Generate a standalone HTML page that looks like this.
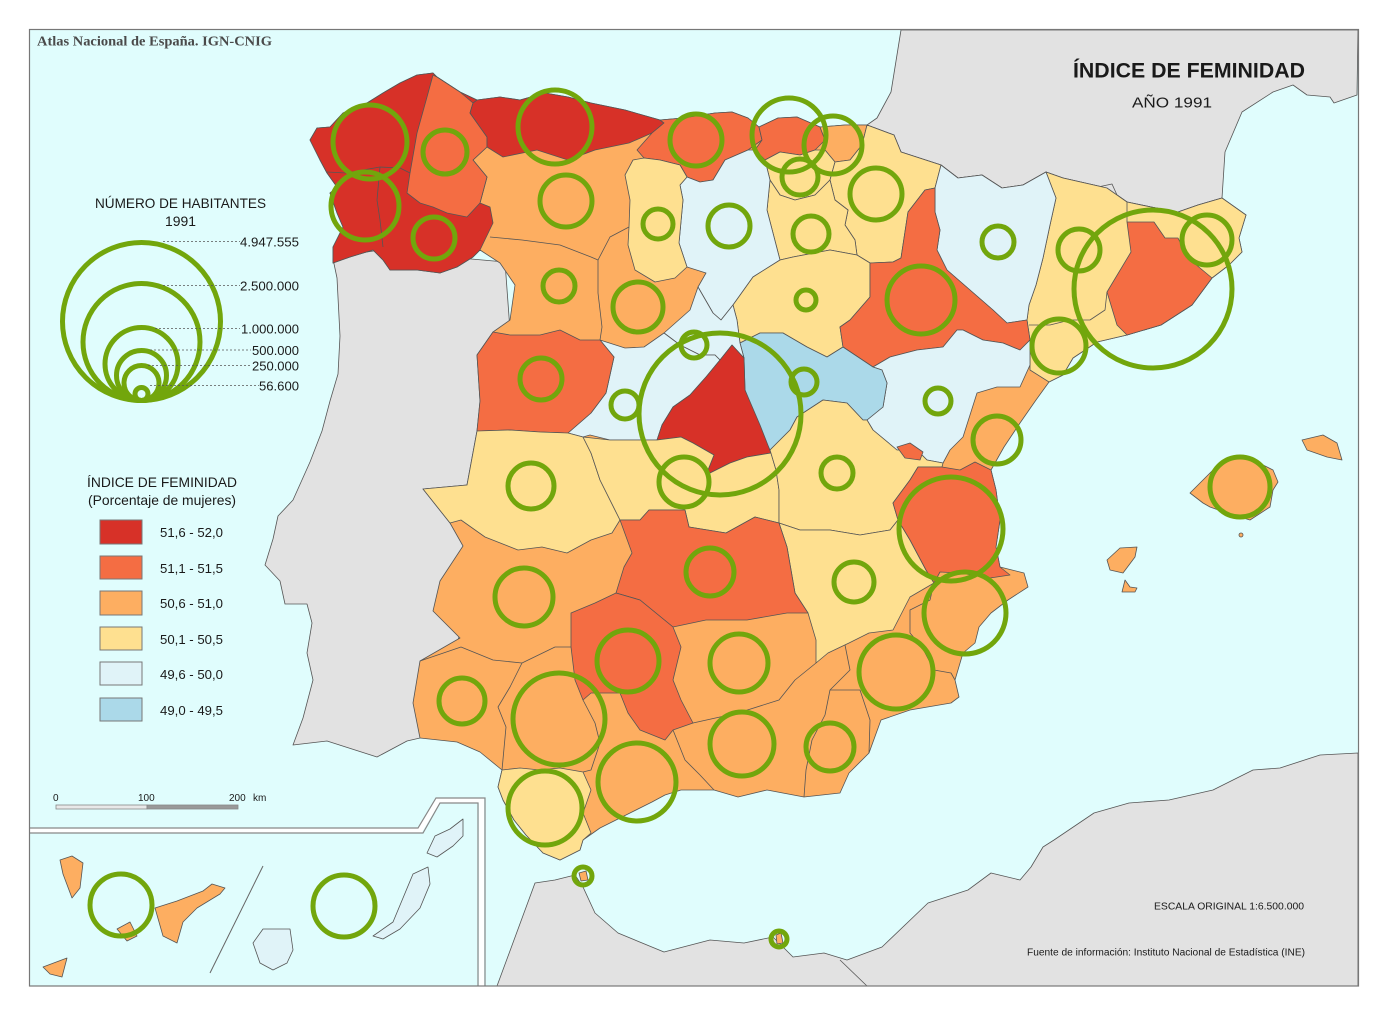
<!DOCTYPE html>
<html><head><meta charset="utf-8"><style>
html,body{margin:0;padding:0;background:#fff;}
svg{display:block;}
text{font-family:"Liberation Sans",sans-serif;fill:#1a1a1a;}
</style></head><body>
<svg width="1388" height="1016" viewBox="0 0 1388 1016" xmlns="http://www.w3.org/2000/svg">
<rect width="1388" height="1016" fill="#fff"/>
<rect x="30" y="30" width="1328" height="956" fill="#e0fdfd"/>

<g stroke="#555" stroke-width="0.8" stroke-linejoin="round">
<!-- France -->
<polygon fill="#e2e2e2" points="901,30 891,92 877,118 867,125 894,135 901,152 941,165 958,178 982,175 1002,188 1023,185 1046,172 1063,178 1107,188 1127,202 1151,207 1178,212 1198,205 1222,198 1225,152 1242,112 1273,92 1293,85 1307,95 1330,97 1334,103 1357,95 1358,30"/>
<!-- Portugal -->
<polygon fill="#e2e2e2" points="333,259 337,278 340,336 338,374 330,401 322,431 310,462 293,500 278,516 273,539 265,565 280,581 285,604 307,604 312,623 307,653 313,680 303,718 293,745 327,741 377,757 407,741 420,738 440,700 470,600 490,450 510,330 505,262 460,258 380,250 334,257"/>
<!-- Africa -->
<polygon fill="#e2e2e2" points="497,986 514,940 535,883 555,880 575,875 583,887 595,913 618,933 664,952 710,940 744,943 773,937 793,957 824,953 847,960 882,947 928,903 968,890 991,873 1020,880 1031,867 1043,847 1054,840 1094,813 1129,803 1169,800 1213,790 1253,770 1280,768 1320,755 1358,753 1358,986"/>
<polyline fill="none" points="840,960 867,986"/>

<!-- Spain base -->
<polygon fill="#fdae61" points="310,140 317,128 330,127 343,113 367,103 383,93 400,83 417,75 433,73 437,77 460,92 477,100 500,97 520,100 545,93 568,97 591,103 625,110 660,120 683,118 715,113 732,112 748,118 759,127 778,118 797,117 820,127 845,125 867,125 894,135 901,152 941,165 958,178 982,175 1002,188 1023,185 1046,172 1063,178 1107,188 1127,202 1151,207 1178,212 1198,205 1222,198 1246,215 1239,238 1242,252 1229,265 1212,278 1192,305 1161,325 1127,335 1097,342 1073,358 1063,375 1049,382 1036,400 1020,423 1004,447 991,470 996,490 1000,520 996,547 1000,567 1024,573 1028,587 1008,600 991,613 979,627 975,643 963,653 955,680 959,697 951,703 910,710 881,720 869,753 849,773 840,793 804,797 767,790 738,797 714,790 681,790 665,795 652,802 630,813 600,828 583,840 580,850 560,860 543,853 526,835 514,820 503,800 498,787 502,770 480,752 457,742 420,738 413,703 420,661 460,638 433,611 440,581 463,546 450,523 423,489 467,485 477,431 480,401 477,355 493,332 510,320 515,285 500,263 480,250 473,257 457,267 440,273 417,270 390,270 383,260 373,250 350,257 333,263 333,247 343,227 337,213 330,193 337,187 327,173 320,160"/>
<polygon fill="#e2e2e2" points="1098,187 1112,184 1117,195 1103,198"/>

<!-- Galicia -->
<polygon fill="#d73128" points="310,140 317,128 330,127 343,113 367,103 383,93 400,83 417,75 433,73 437,77 460,92 477,100 470,113 487,137 487,147 473,160 487,177 480,203 490,207 493,223 480,250 473,257 457,267 440,273 417,270 390,270 383,260 373,250 350,257 333,263 333,247 343,227 337,213 330,193 337,187 327,173 320,160"/>
<polygon fill="#f46d43" points="433,75 437,77 460,92 473,103 470,113 487,137 487,147 473,160 487,177 480,203 467,217 447,213 433,207 420,203 407,193 410,173 417,133 427,97"/>
<polygon fill="#d73128" points="473,103 477,100 500,97 520,100 545,93 568,97 591,103 625,110 660,120 664,123 652,133 629,143 595,150 568,160 537,150 503,157 487,147 487,137 470,113"/>
<polygon fill="#f46d43" points="660,120 683,118 715,113 732,112 748,118 759,127 762,140 748,150 725,160 713,180 700,182 687,177 680,165 660,160 644,158 637,150 652,133 664,123"/>
<polygon fill="#f46d43" points="759,127 778,118 797,117 820,127 825,140 815,150 800,155 780,152 765,160 755,150 762,140"/>
<polygon fill="#fdae61" points="820,127 845,125 867,125 862,145 850,160 835,162 825,150 825,140"/>
<polygon fill="#fee090" points="765,160 780,152 800,155 815,150 825,150 835,162 830,180 815,195 795,200 780,195 770,180"/>
<polygon fill="#fee090" points="867,125 894,135 901,152 941,165 935,188 925,190 908,212 901,258 893,262 870,263 857,255 855,240 845,225 848,210 835,200 830,180 835,162 850,160 862,145"/>
<polygon fill="#fee090" points="770,180 780,195 795,200 815,195 830,180 835,200 848,210 845,225 855,240 857,255 830,250 793,257 780,260 767,210"/>
<polygon fill="#e0f3f8" points="687,177 700,182 713,180 725,160 748,150 755,150 765,160 770,180 767,210 780,260 753,277 733,305 721,320 713,313 698,287 706,273 687,267 679,243 683,200 680,185"/>
<polygon fill="#fee090" points="644,158 660,160 680,165 687,177 680,185 683,200 679,243 687,267 675,278 655,282 635,270 628,245 629,227 630,200 625,175 633,160"/>
<polygon fill="#fee090" points="780,260 793,257 830,250 857,255 870,263 870,297 850,320 840,327 843,347 827,357 807,347 783,333 760,333 740,343 737,320 733,305 753,277"/>
<polygon fill="#fee090" points="1046,172 1063,178 1107,188 1127,202 1151,207 1178,212 1198,205 1222,198 1246,215 1239,238 1242,252 1229,265 1212,278 1192,305 1161,325 1127,335 1097,342 1073,358 1063,375 1049,382 1030,370 1030,340 1027,320 1029,305 1036,285 1043,258 1050,225 1056,198"/>
<polygon fill="#e0f3f8" points="941,165 958,178 982,175 1002,188 1023,185 1046,172 1056,198 1050,225 1043,258 1036,285 1029,305 1027,320 1007,323 993,310 970,290 947,270 937,250 940,230 935,212 935,188"/>
<polygon fill="#f46d43" points="925,190 935,188 935,212 940,230 937,250 947,270 970,290 993,310 1007,323 1027,320 1030,340 1020,350 1003,343 983,340 963,330 957,330 943,347 917,350 890,357 873,367 843,347 840,327 850,320 870,297 870,263 893,262 901,258 908,212"/>
<polygon fill="#f46d43" points="1127,222 1154,222 1165,238 1178,238 1188,258 1212,278 1192,305 1161,325 1127,335 1117,325 1107,292 1131,252"/>
<polygon fill="#e0f3f8" points="873,367 890,357 917,350 943,347 957,330 963,330 983,340 1003,343 1020,350 1030,340 1030,365 1020,387 997,387 977,393 963,437 950,450 943,463 927,460 917,450 897,450 873,430 867,420 883,407 887,383 882,370"/>
<polygon fill="#abd9e9" points="744,358 740,343 760,333 783,333 807,347 827,357 843,347 873,367 882,370 887,383 883,407 867,420 863,420 847,403 823,400 797,417 790,430 770,450 763,437 745,390"/>
<polygon fill="#e0f3f8" points="698,287 713,313 721,320 733,305 737,320 740,343 744,358 732,345 720,360 715,355 700,355 680,345 664,333 690,310"/>
<polygon fill="#e0f3f8" points="600,340 625,348 644,347 664,333 680,345 700,355 715,355 720,360 706,377 690,395 673,407 662,425 657,440 630,440 610,440 590,435 583,437 568,433 591,413 606,393 614,357"/>
<polygon fill="#f46d43" points="493,332 510,335 540,335 560,330 580,340 600,340 614,357 606,393 591,413 568,433 540,432 510,430 477,431 480,401 477,355"/>
<polygon fill="#d73128" points="732,345 744,358 745,390 760,425 771,453 747,457 730,463 706,475 714,455 693,443 681,437 657,440 662,425 673,407 690,395 706,377 720,360"/>
<polygon fill="#fee090" points="477,431 510,430 540,432 568,433 583,437 591,453 600,480 620,520 612,533 591,540 567,553 542,547 518,550 485,537 461,520 450,523 423,489 467,485"/>
<polygon fill="#fee090" points="583,437 610,440 630,440 657,440 681,437 693,443 714,455 706,475 730,463 747,457 771,453 776,470 779,490 779,523 755,517 726,533 689,527 685,510 649,510 640,520 620,520 600,480 591,453"/>
<polygon fill="#fee090" points="770,450 790,430 797,417 823,400 847,403 863,420 867,420 873,430 897,450 917,450 927,460 943,463 942,467 918,467 910,480 893,503 898,520 890,530 860,535 830,530 800,530 779,523 779,490 776,470"/>
<polygon fill="#fee090" points="779,523 800,530 830,530 860,535 890,530 898,520 910,540 926,570 934,583 910,597 893,630 869,633 849,643 828,653 816,663 816,640 808,613 795,593 787,547"/>
<polygon fill="#f46d43" points="918,467 942,467 960,470 975,462 991,470 996,490 1000,520 996,547 1000,567 1010,575 990,578 960,573 940,572 934,583 926,570 910,540 898,520 893,503 910,480"/>
<polygon fill="#f46d43" points="897,447 910,443 923,452 920,460 905,458"/>
<polygon fill="#f46d43" points="620,520 640,520 649,510 685,510 689,527 726,533 755,517 779,523 787,547 795,593 808,613 787,613 747,620 706,620 673,627 640,600 616,593 624,567 632,553"/>
<polygon fill="#f46d43" points="571,613 595,603 616,593 640,600 673,627 681,647 673,680 681,700 693,723 673,730 665,740 640,730 628,713 620,693 591,693 583,700 575,680 571,647"/>
<polygon fill="#fee090" points="502,770 520,768 540,770 560,768 583,772 591,790 583,813 591,833 583,840 580,850 560,860 543,853 526,835 514,820 503,800 498,787"/>

<g fill="none">
<polyline points="490,237 522,240 560,245 591,257 598,260"/>
<polyline points="598,260 610,237 629,227"/>
<polyline points="598,260 598,293 602,327 600,340"/>
<polyline points="420,661 461,647 493,660 522,663 555,647 571,647"/>
<polyline points="522,663 510,687 498,707 506,727 502,770"/>
<polyline points="583,700 595,723 600,743 591,770 583,772"/>
<polyline points="673,730 685,760 700,775 714,790"/>
<polyline points="693,723 738,713 779,700 795,680 816,663"/>
<polyline points="845,645 850,670 830,690 825,715 812,740 806,770 804,797"/>
<polyline points="830,690 860,690 870,720 869,753"/>
<polyline points="934,583 930,600 910,610 910,633 922,647 934,670 951,673 955,680"/>
<polyline points="327,172 346,173 380,167 400,168 410,173"/>
<polyline points="380,167 377,200 380,220 383,247"/>
<polyline points="1127,202 1127,222"/>
<polyline points="1029,325 1050,325 1070,320 1090,320 1105,310 1107,292"/>
</g>

<!-- Balearics -->
<polygon fill="#fdae61" points="1190,493 1200,483 1213,470 1227,460 1247,457 1273,470 1278,482 1273,490 1270,507 1250,520 1240,517 1227,513 1210,507 1203,503"/>
<polygon fill="#fdae61" points="1302,440 1323,435 1337,443 1342,460 1327,457 1307,450"/>
<polygon fill="#fdae61" points="1107,560 1120,548 1137,547 1135,557 1123,573 1110,570"/>
<polygon fill="#fdae61" points="1122,592 1125,580 1130,587 1137,588 1135,592"/>
<circle cx="1241" cy="535" r="2" fill="#fdae61"/>
<!-- Ceuta / Melilla -->
<polygon fill="#fdae61" points="579,873 586,871 588,880 581,881"/>
<polygon fill="#fdae61" points="776,935 781,933 783,943 777,944"/>

<!-- Canaries -->
<polygon fill="#fdae61" points="60,860 72,856 83,863 80,888 72,898 63,874"/>
<polygon fill="#fdae61" points="43,967 67,958 62,977 50,974"/>
<polygon fill="#fdae61" points="117,929 130,922 137,936 127,941"/>
<polygon fill="#fdae61" points="155,908 177,901 203,891 212,884 225,888 220,894 197,908 183,922 177,943 163,936"/>
<polygon fill="#e0f3f8" points="253,943 263,929 283,929 290,929 293,950 287,963 273,970 260,963"/>
<polygon fill="#e0f3f8" points="373,936 393,922 403,898 413,874 428,867 430,884 420,908 400,929 383,939"/>
<polygon fill="#e0f3f8" points="427,853 435,836 450,829 463,819 463,836 453,846 437,857"/>
</g>

<!-- inset frame -->
<polyline points="29,830.5 420,830.5 438,800.5 481.5,800.5 481.5,986" fill="none" stroke="#fff" stroke-width="5"/>
<polyline points="29,828 418,828 436,798 485,798 485,986" fill="none" stroke="#888" stroke-width="1.2"/>
<polyline points="29,833 423,833 440,803 478,803 478,986" fill="none" stroke="#888" stroke-width="1.2"/>
<line x1="263" y1="866" x2="210" y2="973" stroke="#666" stroke-width="1"/>

<!-- circles -->
<g fill="none" stroke="#72a60c" stroke-width="5">
<circle cx="370" cy="142" r="37"/><circle cx="445" cy="152" r="22"/><circle cx="365" cy="206" r="34"/><circle cx="434" cy="238" r="21"/>
<circle cx="555" cy="127" r="37"/><circle cx="696" cy="140" r="26"/><circle cx="789" cy="135" r="37"/><circle cx="833" cy="145" r="29"/><circle cx="800" cy="177" r="18"/><circle cx="876" cy="194" r="26"/>
<circle cx="566" cy="201" r="26"/><circle cx="658" cy="224" r="15"/><circle cx="729" cy="226" r="21"/><circle cx="811" cy="234" r="18"/><circle cx="998" cy="242" r="16"/><circle cx="1079" cy="250" r="21"/><circle cx="1153" cy="289" r="79"/><circle cx="1207" cy="240" r="25"/>
<circle cx="559" cy="286" r="16"/><circle cx="638" cy="307" r="25"/><circle cx="806" cy="300" r="10"/><circle cx="921" cy="300" r="34"/><circle cx="1059" cy="346" r="27"/>
<circle cx="541" cy="379" r="21"/><circle cx="694" cy="345" r="13"/><circle cx="720" cy="414" r="81"/><circle cx="804" cy="382" r="13"/><circle cx="625" cy="405" r="14"/><circle cx="938" cy="401" r="13"/><circle cx="997" cy="440" r="24"/>
<circle cx="531" cy="486" r="23"/><circle cx="684" cy="482" r="25"/><circle cx="837" cy="473" r="16"/><circle cx="951" cy="529" r="52"/>
<circle cx="524" cy="597" r="29"/><circle cx="710" cy="572" r="24"/><circle cx="854" cy="582" r="20"/><circle cx="965" cy="613" r="41"/>
<circle cx="628" cy="661" r="31"/><circle cx="739" cy="663" r="29"/><circle cx="896" cy="672" r="37"/>
<circle cx="462" cy="701" r="23"/><circle cx="559" cy="719" r="46"/><circle cx="742" cy="744" r="32"/><circle cx="830" cy="747" r="24"/>
<circle cx="545" cy="808" r="37"/><circle cx="637" cy="782" r="39"/>
<circle cx="583" cy="876" r="9"/><circle cx="779" cy="939" r="8"/>
<circle cx="1240" cy="487" r="30"/>
<circle cx="121" cy="905" r="31"/><circle cx="344" cy="906" r="31"/>
</g>

<!-- legend circles -->
<g fill="none" stroke="#72a60c" stroke-width="5">
<circle cx="141.5" cy="321.5" r="79"/>
<circle cx="141.5" cy="342" r="58.5"/>
<circle cx="141.5" cy="364" r="36.5"/>
<circle cx="141.5" cy="375.5" r="25"/>
<circle cx="141.5" cy="383" r="17.5"/>
<circle cx="141.5" cy="394" r="6.5"/>
</g>
<g stroke="#555" stroke-width="0.8" stroke-dasharray="2,2">
<line x1="163" y1="241.5" x2="240" y2="241.5"/>
<line x1="163" y1="285.5" x2="240" y2="285.5"/>
<line x1="155" y1="328.5" x2="240" y2="328.5"/>
<line x1="150" y1="350" x2="251" y2="350"/>
<line x1="148" y1="365.5" x2="252" y2="365.5"/>
<line x1="150" y1="385.5" x2="259" y2="385.5"/>
</g>
<g font-size="13">
<text x="240" y="246.5" textLength="59" lengthAdjust="spacingAndGlyphs">4.947.555</text>
<text x="240" y="290.5" textLength="59" lengthAdjust="spacingAndGlyphs">2.500.000</text>
<text x="241" y="333.5" textLength="58" lengthAdjust="spacingAndGlyphs">1.000.000</text>
<text x="252" y="355" textLength="47" lengthAdjust="spacingAndGlyphs">500.000</text>
<text x="252" y="370.5" textLength="47" lengthAdjust="spacingAndGlyphs">250.000</text>
<text x="259" y="390.5" textLength="40" lengthAdjust="spacingAndGlyphs">56.600</text>
</g>
<text x="95" y="208" font-size="14" textLength="171" lengthAdjust="spacingAndGlyphs">NÚMERO DE HABITANTES</text>
<text x="165" y="226" font-size="14" textLength="31" lengthAdjust="spacingAndGlyphs">1991</text>

<!-- colour legend -->
<text x="87" y="487" font-size="14" textLength="150" lengthAdjust="spacingAndGlyphs">ÍNDICE DE FEMINIDAD</text>
<text x="88" y="505" font-size="14" textLength="148" lengthAdjust="spacingAndGlyphs">(Porcentaje de mujeres)</text>
<g stroke="#777" stroke-width="1">
<rect x="100" y="520" width="42" height="24" fill="#d73128"/>
<rect x="100" y="556" width="42" height="23" fill="#f46d43"/>
<rect x="100" y="591" width="42" height="24" fill="#fdae61"/>
<rect x="100" y="627" width="42" height="23" fill="#fee090"/>
<rect x="100" y="662" width="42" height="23" fill="#e0f3f8"/>
<rect x="100" y="698" width="42" height="23" fill="#abd9e9"/>
</g>
<g font-size="13">
<text x="160" y="537" textLength="63" lengthAdjust="spacingAndGlyphs">51,6 - 52,0</text>
<text x="160" y="573" textLength="63" lengthAdjust="spacingAndGlyphs">51,1 - 51,5</text>
<text x="160" y="608" textLength="63" lengthAdjust="spacingAndGlyphs">50,6 - 51,0</text>
<text x="160" y="644" textLength="63" lengthAdjust="spacingAndGlyphs">50,1 - 50,5</text>
<text x="160" y="679" textLength="63" lengthAdjust="spacingAndGlyphs">49,6 - 50,0</text>
<text x="160" y="715" textLength="63" lengthAdjust="spacingAndGlyphs">49,0 - 49,5</text>
</g>

<!-- scale bar -->
<g font-size="10">
<text x="53" y="801">0</text>
<text x="138" y="801">100</text>
<text x="229" y="801">200</text>
<text x="253" y="801">km</text>
</g>
<rect x="56" y="805" width="91" height="4" fill="#e8e8e8" stroke="#888" stroke-width="0.8"/>
<rect x="147" y="805" width="91" height="4" fill="#999" stroke="#888" stroke-width="0.8"/>

<!-- titles -->
<text x="37" y="45.5" font-weight="bold" font-size="14" style="font-family:'Liberation Serif',serif;fill:#4a4a4a" textLength="235" lengthAdjust="spacingAndGlyphs">Atlas Nacional de España. IGN-CNIG</text>
<text x="1073" y="77.5" font-size="21" font-weight="bold" textLength="232" lengthAdjust="spacingAndGlyphs">ÍNDICE DE FEMINIDAD</text>
<text x="1132" y="107.5" font-size="15" textLength="80" lengthAdjust="spacingAndGlyphs">AÑO 1991</text>

<text x="1154" y="909.5" font-size="10" textLength="150" lengthAdjust="spacingAndGlyphs">ESCALA ORIGINAL 1:6.500.000</text>
<text x="1027" y="955.5" font-size="10" textLength="278" lengthAdjust="spacingAndGlyphs">Fuente de información: Instituto Nacional de Estadística (INE)</text>

<rect x="29.5" y="29.5" width="1329" height="956.5" fill="none" stroke="#777" stroke-width="1.2"/>
</svg>
</body></html>
